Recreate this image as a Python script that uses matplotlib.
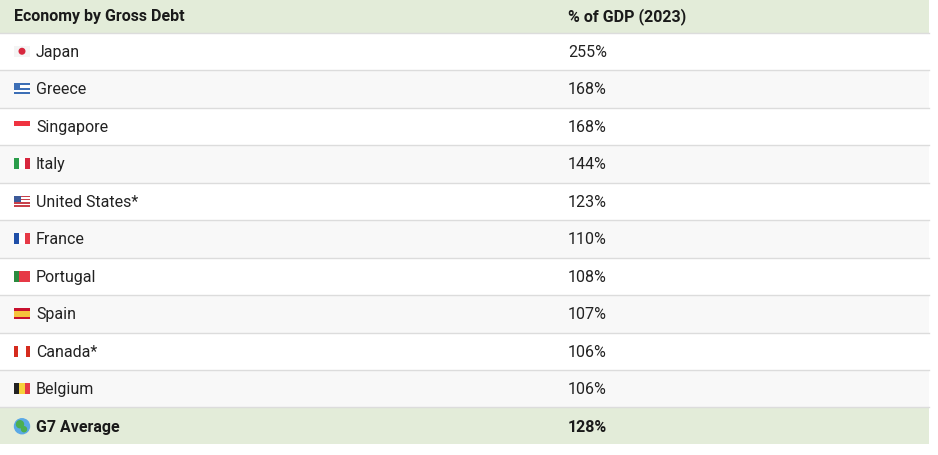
import matplotlib.pyplot as plt
from matplotlib.patches import Rectangle, Circle

countries = ["Japan", "Greece", "Singapore", "Italy", "United States*", "France",
             "Portugal", "Spain", "Canada*", "Belgium"]
debt = [255, 168, 168, 144, 123, 110, 108, 107, 106, 106]
avg_label = "G7 Average"
avg_value = 128
headers = ["Economy by Gross Debt", "% of GDP (2023)"]

# simplified flags: list of stripe colors and orientation
flags = {
    "Japan": ("h", ["#f4f4f4"], "#d7263d"),
    "Greece": ("h", ["#3d6fb6", "#ffffff"] * 2 + ["#3d6fb6"], None),
    "Singapore": ("h", ["#ef3340", "#ffffff"], None),
    "Italy": ("v", ["#2a9d4a", "#ffffff", "#d7263d"], None),
    "United States*": ("h", ["#c8414b", "#ffffff"] * 3 + ["#c8414b"], None),
    "France": ("v", ["#1f4fa8", "#ffffff", "#e63946"], None),
    "Portugal": ("v", ["#2a8a3e", "#e63946", "#e63946"], None),
    "Spain": ("h", ["#c8102e", "#f6c33c", "#f6c33c", "#c8102e"], None),
    "Canada*": ("v", ["#d52b1e", "#ffffff", "#ffffff", "#d52b1e"], None),
    "Belgium": ("v", ["#222222", "#f6d13a", "#e63946"], None),
}

W, H = 938, 456
fig = plt.figure(figsize=(W / 100, H / 100), dpi=100)
ax = fig.add_axes([0, 0, 1, 1])
ax.set_xlim(0, W)
ax.set_ylim(H, 0)
ax.axis("off")

plt.rcParams["font.family"] = ["Roboto", "DejaVu Sans"]
tw = 929
hh = 33.5
rh = 37.5
col2 = 568
fs = 11.5

def draw_flag(name, x, yc):
    w, h = 16, 11
    if name == "G7":
        ax.add_patch(Circle((x + 8, yc), 7.5, color="#5aa9e6"))
        ax.add_patch(Circle((x + 6, yc - 2), 3.5, color="#4caf50"))
        ax.add_patch(Circle((x + 10, yc + 3), 2.5, color="#4caf50"))
        return
    kind, cols, dot = flags[name]
    n = len(cols)
    for i, c in enumerate(cols):
        if kind == "h":
            ax.add_patch(Rectangle((x, yc - h / 2 + i * h / n), w, h / n, color=c, lw=0))
        else:
            ax.add_patch(Rectangle((x + i * w / n, yc - h / 2), w / n, h, color=c, lw=0))
    if dot:
        ax.add_patch(Circle((x + w / 2, yc), 2.8, color=dot))
    if name == "Greece":
        ax.add_patch(Rectangle((x, yc - h / 2), 6, 6, color="#3d6fb6", lw=0))
    if name == "United States*":
        ax.add_patch(Rectangle((x, yc - h / 2), 7, 6, color="#3c5a99", lw=0))

# header
ax.add_patch(Rectangle((0, 0), tw, hh, color="#e3ecd9", lw=0))
ax.text(14, hh / 2, headers[0], fontsize=fs, fontweight="bold", va="center", color="#1a1a1a")
ax.text(col2, hh / 2, headers[1], fontsize=fs, fontweight="bold", va="center", color="#1a1a1a")

y = hh
for i, (c, v) in enumerate(zip(countries, debt)):
    bg = "#ffffff" if i % 2 == 0 else "#f8f8f8"
    ax.add_patch(Rectangle((0, y), tw, rh, color=bg, lw=0))
    ax.plot([0, tw], [y, y], color="#dcdcdc", lw=1)
    yc = y + rh / 2
    draw_flag(c, 14, yc)
    ax.text(36, yc, c, fontsize=fs, va="center", color="#222222")
    ax.text(col2, yc, f"{v}%", fontsize=fs, va="center", color="#222222")
    y += rh

ax.add_patch(Rectangle((0, y), tw, rh - 1, color="#e3ecd9", lw=0))
ax.plot([0, tw], [y, y], color="#dcdcdc", lw=1)
yc = y + rh / 2
draw_flag("G7", 14, yc)
ax.text(36, yc, avg_label, fontsize=fs, fontweight="bold", va="center", color="#1a1a1a")
ax.text(col2, yc, f"{avg_value}%", fontsize=fs, fontweight="bold", va="center", color="#1a1a1a")

fig.savefig("out.png", dpi=100)
